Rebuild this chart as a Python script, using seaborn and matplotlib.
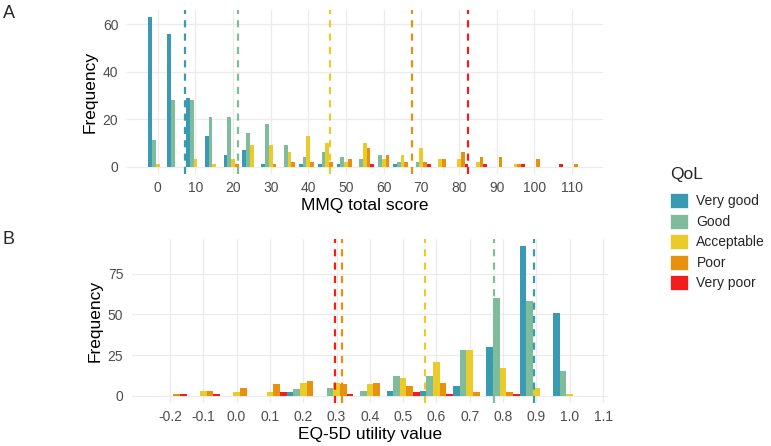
import numpy as np
import pandas as pd
import matplotlib
matplotlib.use("Agg")
import matplotlib.pyplot as plt
from matplotlib.patches import Patch
import seaborn as sns

sns.set_theme(style="white")
plt.rcParams["font.family"] = ["Liberation Sans", "DejaVu Sans"]

# ---------------- data ----------------
qol_levels = ["Very good", "Good", "Acceptable", "Poor", "Very poor"]
qol_colors = ["#3A9AB2", "#7EBC9B", "#EBCB2A", "#E8910C", "#F21E1E"]

# Panel A: MMQ total score, bins of width 5 centred at 0..110
mmq_centers = list(range(0, 115, 5))
mmq_very_good = [63, 56, 29, 13, 5, 7, 1, 0, 1, 1, 1, 0, 0, 1, 0, 0, 0, 0, 0, 0, 0, 0, 0]
mmq_good      = [11, 28, 28, 21, 21, 14, 18, 9, 4, 6, 4, 3, 5, 2, 2, 0, 0, 0, 0, 0, 0, 0, 0]
mmq_accept    = [1, 0, 3, 1, 3, 9, 9, 6, 13, 10, 2, 10, 3, 5, 8, 3, 3, 2, 0, 1, 0, 0, 0]
mmq_poor      = [0, 0, 0, 0, 1, 0, 1, 2, 2, 2, 3, 8, 5, 2, 2, 3, 6, 4, 4, 1, 3, 0, 1]
mmq_very_poor = [0, 0, 0, 0, 0, 0, 0, 0, 0, 0, 0, 1, 0, 0, 1, 0, 1, 1, 0, 1, 0, 1, 0]
mmq_means = [7.2, 21.2, 45.7, 67.6, 82.4]
mmq_xticks = list(range(0, 120, 10))
mmq_yticks = [0, 20, 40, 60]

# Panel B: EQ-5D utility value, bins of width 0.1 centred at -0.2..1.0
eq_centers = [-0.2, -0.1, 0.0, 0.1, 0.2, 0.3, 0.4, 0.5, 0.6, 0.7, 0.8, 0.9, 1.0]
eq_very_good = [0, 0, 0, 0, 2, 0, 0, 3, 3, 6, 30, 92, 51]
eq_good      = [0, 0, 0, 0, 4, 5, 3, 12, 12, 28, 60, 58, 15]
eq_accept    = [0, 3, 2, 2, 8, 8, 7, 11, 21, 28, 17, 5, 1]
eq_poor      = [1, 3, 5, 7, 9, 7, 8, 6, 8, 2, 2, 0, 0]
eq_very_poor = [1, 1, 0, 2, 0, 1, 0, 2, 1, 0, 1, 0, 0]
eq_means = [0.892, 0.774, 0.565, 0.316, 0.296]
eq_xticks = [-0.2, -0.1, 0.0, 0.1, 0.2, 0.3, 0.4, 0.5, 0.6, 0.7, 0.8, 0.9, 1.0, 1.1]
eq_xticklabels = ["-0.2", "-0.1", "0.0", "0.1", "0.2", "0.3", "0.4", "0.5",
                  "0.6", "0.7", "0.8", "0.9", "1.0", "1.1"]
eq_yticks = [0, 25, 50, 75]


def long_df(centers, series):
    rows = []
    for lvl, vals in zip(qol_levels, series):
        for c, v in zip(centers, vals):
            rows.append({"x": c, "count": v, "QoL": lvl})
    return pd.DataFrame(rows)


dfA = long_df(mmq_centers, [mmq_very_good, mmq_good, mmq_accept, mmq_poor, mmq_very_poor])
dfB = long_df(eq_centers, [eq_very_good, eq_good, eq_accept, eq_poor, eq_very_poor])

W, H = 771, 446
fig = plt.figure(figsize=(W / 100, H / 100), dpi=100)


def ax_at(l, t, r, b):
    return fig.add_axes([l / W, 1 - b / H, (r - l) / W, (b - t) / H])


axA = ax_at(126.7, 9.7, 603, 174)
axB = ax_at(131.7, 238.6, 608, 403.2)

palette = dict(zip(qol_levels, qol_colors))
grid_c = "#EBEBEB"
tick_c = "#4D4D4D"

# Panel A
sns.histplot(data=dfA, x="x", weights="count", hue="QoL", hue_order=qol_levels,
             palette=palette, multiple="dodge", binwidth=5, binrange=(-2.5, 112.5),
             shrink=1, alpha=1, linewidth=0, legend=False, ax=axA, zorder=2)
for m, c in zip(mmq_means, qol_colors):
    axA.axvline(m, color=c, lw=1.6, ls=(0, (3.2, 2.8)), zorder=3)
axA.set_xlim(-8.25, 118.25)
axA.set_ylim(-3.15, 66.15)
axA.set_xticks(mmq_xticks)
axA.set_yticks(mmq_yticks)

# Panel B
sns.histplot(data=dfB, x="x", weights="count", hue="QoL", hue_order=qol_levels,
             palette=palette, multiple="dodge", binwidth=0.1, binrange=(-0.25, 1.05),
             shrink=1, alpha=1, linewidth=0, legend=False, ax=axB, zorder=2)
for m, c in zip(eq_means, qol_colors):
    axB.axvline(m, color=c, lw=1.6, ls=(0, (3.2, 2.8)), zorder=3)
axB.set_xlim(-0.315, 1.115)
axB.set_ylim(-4.6, 96.6)
axB.set_xticks(eq_xticks)
axB.set_xticklabels(eq_xticklabels)
axB.set_yticks(eq_yticks)

for ax, xl in [(axA, "MMQ total score"), (axB, "EQ-5D utility value")]:
    ax.set_facecolor("white")
    for s in ax.spines.values():
        s.set_visible(False)
    ax.grid(True, color=grid_c, lw=0.9, zorder=0)
    ax.set_axisbelow(True)
    ax.tick_params(axis="both", length=0, labelsize=10, labelcolor=tick_c)
    ax.tick_params(axis="x", pad=5)
    ax.tick_params(axis="y", pad=6)
    ax.set_xlabel(xl, fontsize=12.5, color="black", labelpad=2)
    ax.set_ylabel("Frequency", fontsize=12.5, color="black", labelpad=4)

fig.text(3 / W, 1 - 14 / H, "A", fontsize=13, va="center", ha="left")
fig.text(3 / W, 1 - 240 / H, "B", fontsize=13, va="center", ha="left")

handles = [Patch(facecolor=c, edgecolor="white", lw=0.5) for c in qol_colors]
leg = fig.legend(handles, qol_levels, title="QoL", loc="upper left",
                 bbox_to_anchor=(670 / W, 1 - 167 / H), frameon=False,
                 fontsize=10, title_fontsize=12.5, handlelength=1.3,
                 handleheight=1.3, labelspacing=0.38, handletextpad=0.6,
                 borderpad=0, borderaxespad=0)
leg._legend_box.align = "left"
leg._legend_box.sep = 8

fig.savefig("out.png", dpi=100, facecolor="white")
